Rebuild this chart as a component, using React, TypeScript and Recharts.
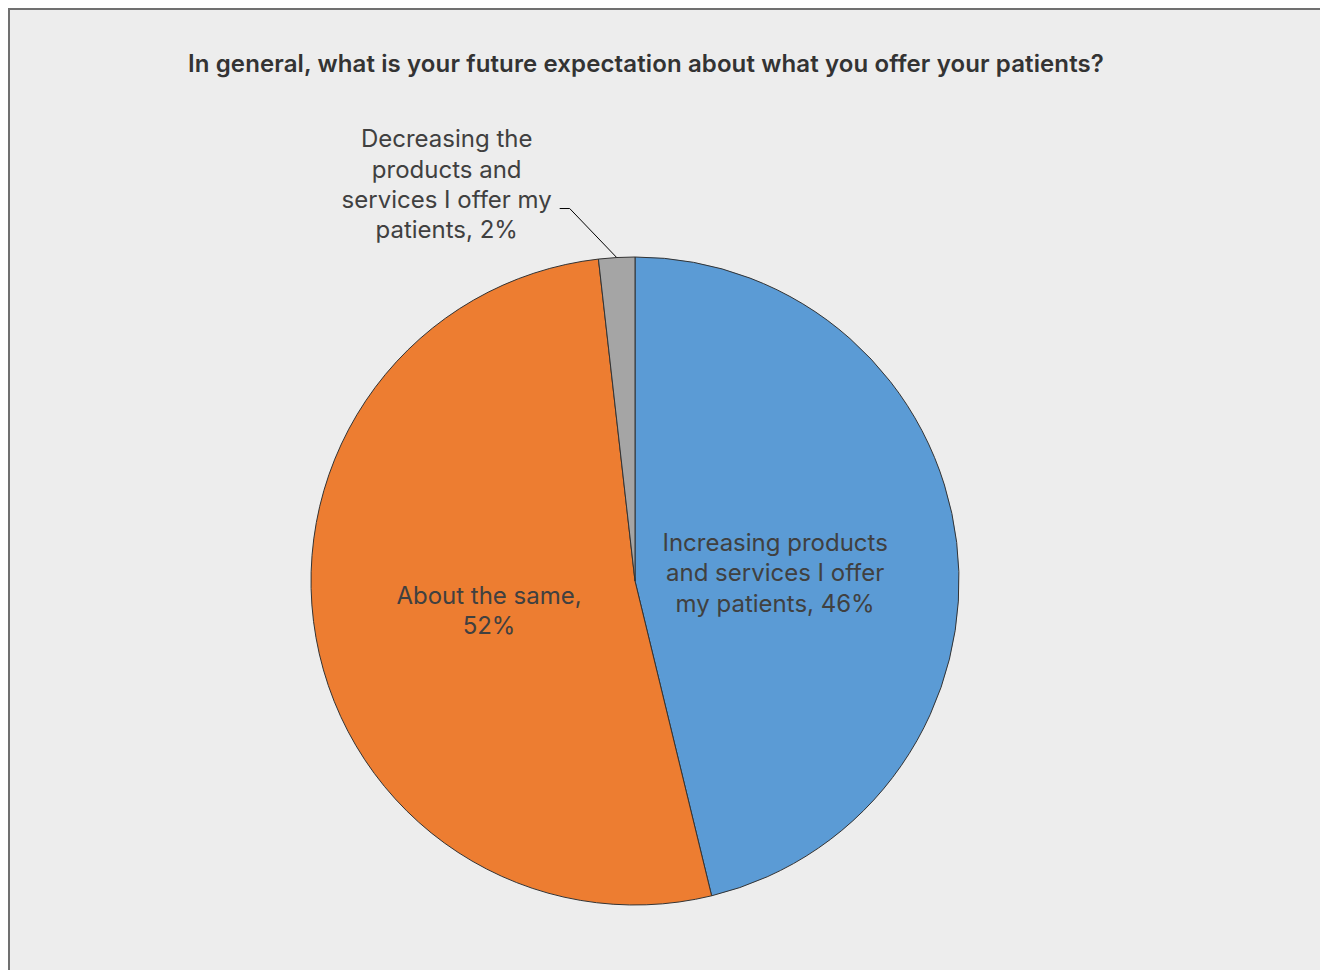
import { PieChart, Pie, Cell } from "recharts";

const categories = [
	"Increasing products and services I offer my patients",
	"About the same",
	"Decreasing the products and services I offer my patients",
];
const shares = [46.2, 52.0, 1.8];
const labelLines = [
	["Increasing products", "and services I offer", "my patients, 46%"],
	["About the same,", "52%"],
	["Decreasing the", "products and", "services I offer my", "patients, 2%"],
];
const colors = ["#5B9BD5", "#ED7D31", "#A5A5A5"];

const data = categories.map((name, i) => ({ name, value: shares[i] }));

const RAD = Math.PI / 180;
const FONT = "Inter, Roboto, sans-serif";

const renderLabel = (props: any) => {
	const { cx, cy, midAngle, outerRadius, index } = props;
	const lines = labelLines[index];
	const lh = 30.3;
	if (index === 2) {
		// outside label with leader line
		const ex = cx + outerRadius * Math.cos(-midAngle * RAD);
		const ey = cy + outerRadius * Math.sin(-midAngle * RAD);
		const kx = ex - 47;
		const ky = ey - 49;
		const tx = kx - 10;
		const textX = tx - 113;
		const top = ky - 9 - 2 * lh;
		return (
			<g>
				<polyline points={`${ex},${ey} ${kx},${ky} ${tx},${ky}`} fill="none" stroke="#000" strokeWidth={1} />
				<text x={textX} y={top} textAnchor="middle" fill="#404040" fontSize={24} fontFamily={FONT}>
					{lines.map((l, i) => (
						<tspan key={i} x={textX} y={top + i * lh} dominantBaseline="central">{l}</tspan>
					))}
				</text>
			</g>
		);
	}
	const r = outerRadius * 0.445;
	const x = cx + r * Math.cos(-midAngle * RAD) + (index === 0 ? -3 : -4);
	const y = cy + r * Math.sin(-midAngle * RAD) + (index === 0 ? 9 : 4);
	const top = y - ((lines.length - 1) * lh) / 2;
	return (
		<text x={x} y={top} textAnchor="middle" fill="#404040" fontSize={24} fontFamily={FONT}>
			{lines.map((l, i) => (
				<tspan key={i} x={x} y={top + i * lh} dominantBaseline="central">{l}</tspan>
			))}
		</text>
	);
};

export default function App() {
	return (
		<div
			style={{
				position: "fixed",
				left: 8,
				top: 8,
				width: 1312,
				height: 962,
				boxSizing: "border-box",
				background: "#EDEDED",
				borderTop: "2px solid #707070",
				borderLeft: "2px solid #707070",
				fontFamily: FONT,
			}}
		>
			<div
				style={{
					position: "absolute",
					left: 0,
					top: 40,
					width: 1272,
					textAlign: "center",
					fontSize: 24,
					lineHeight: "28px",
					fontWeight: 600,
					color: "#333",
					letterSpacing: 0.12,
				}}
			>
				In general, what is your future expectation about what you offer your patients?
			</div>
			<PieChart
				width={1310}
				height={960}
				margin={{ top: 0, right: 0, bottom: 0, left: 0 }}
				style={{ position: "absolute", left: 0, top: 0 }}
			>
				<Pie
					data={data}
					dataKey="value"
					nameKey="name"
					cx={625}
					cy={571}
					outerRadius={324}
					startAngle={90}
					endAngle={-270}
					stroke="#333"
					strokeWidth={1}
					label={renderLabel}
					labelLine={false}
					isAnimationActive={false}
				>
					{data.map((d, i) => (
						<Cell key={d.name} fill={colors[i]} />
					))}
				</Pie>
			</PieChart>
		</div>
	);
}
